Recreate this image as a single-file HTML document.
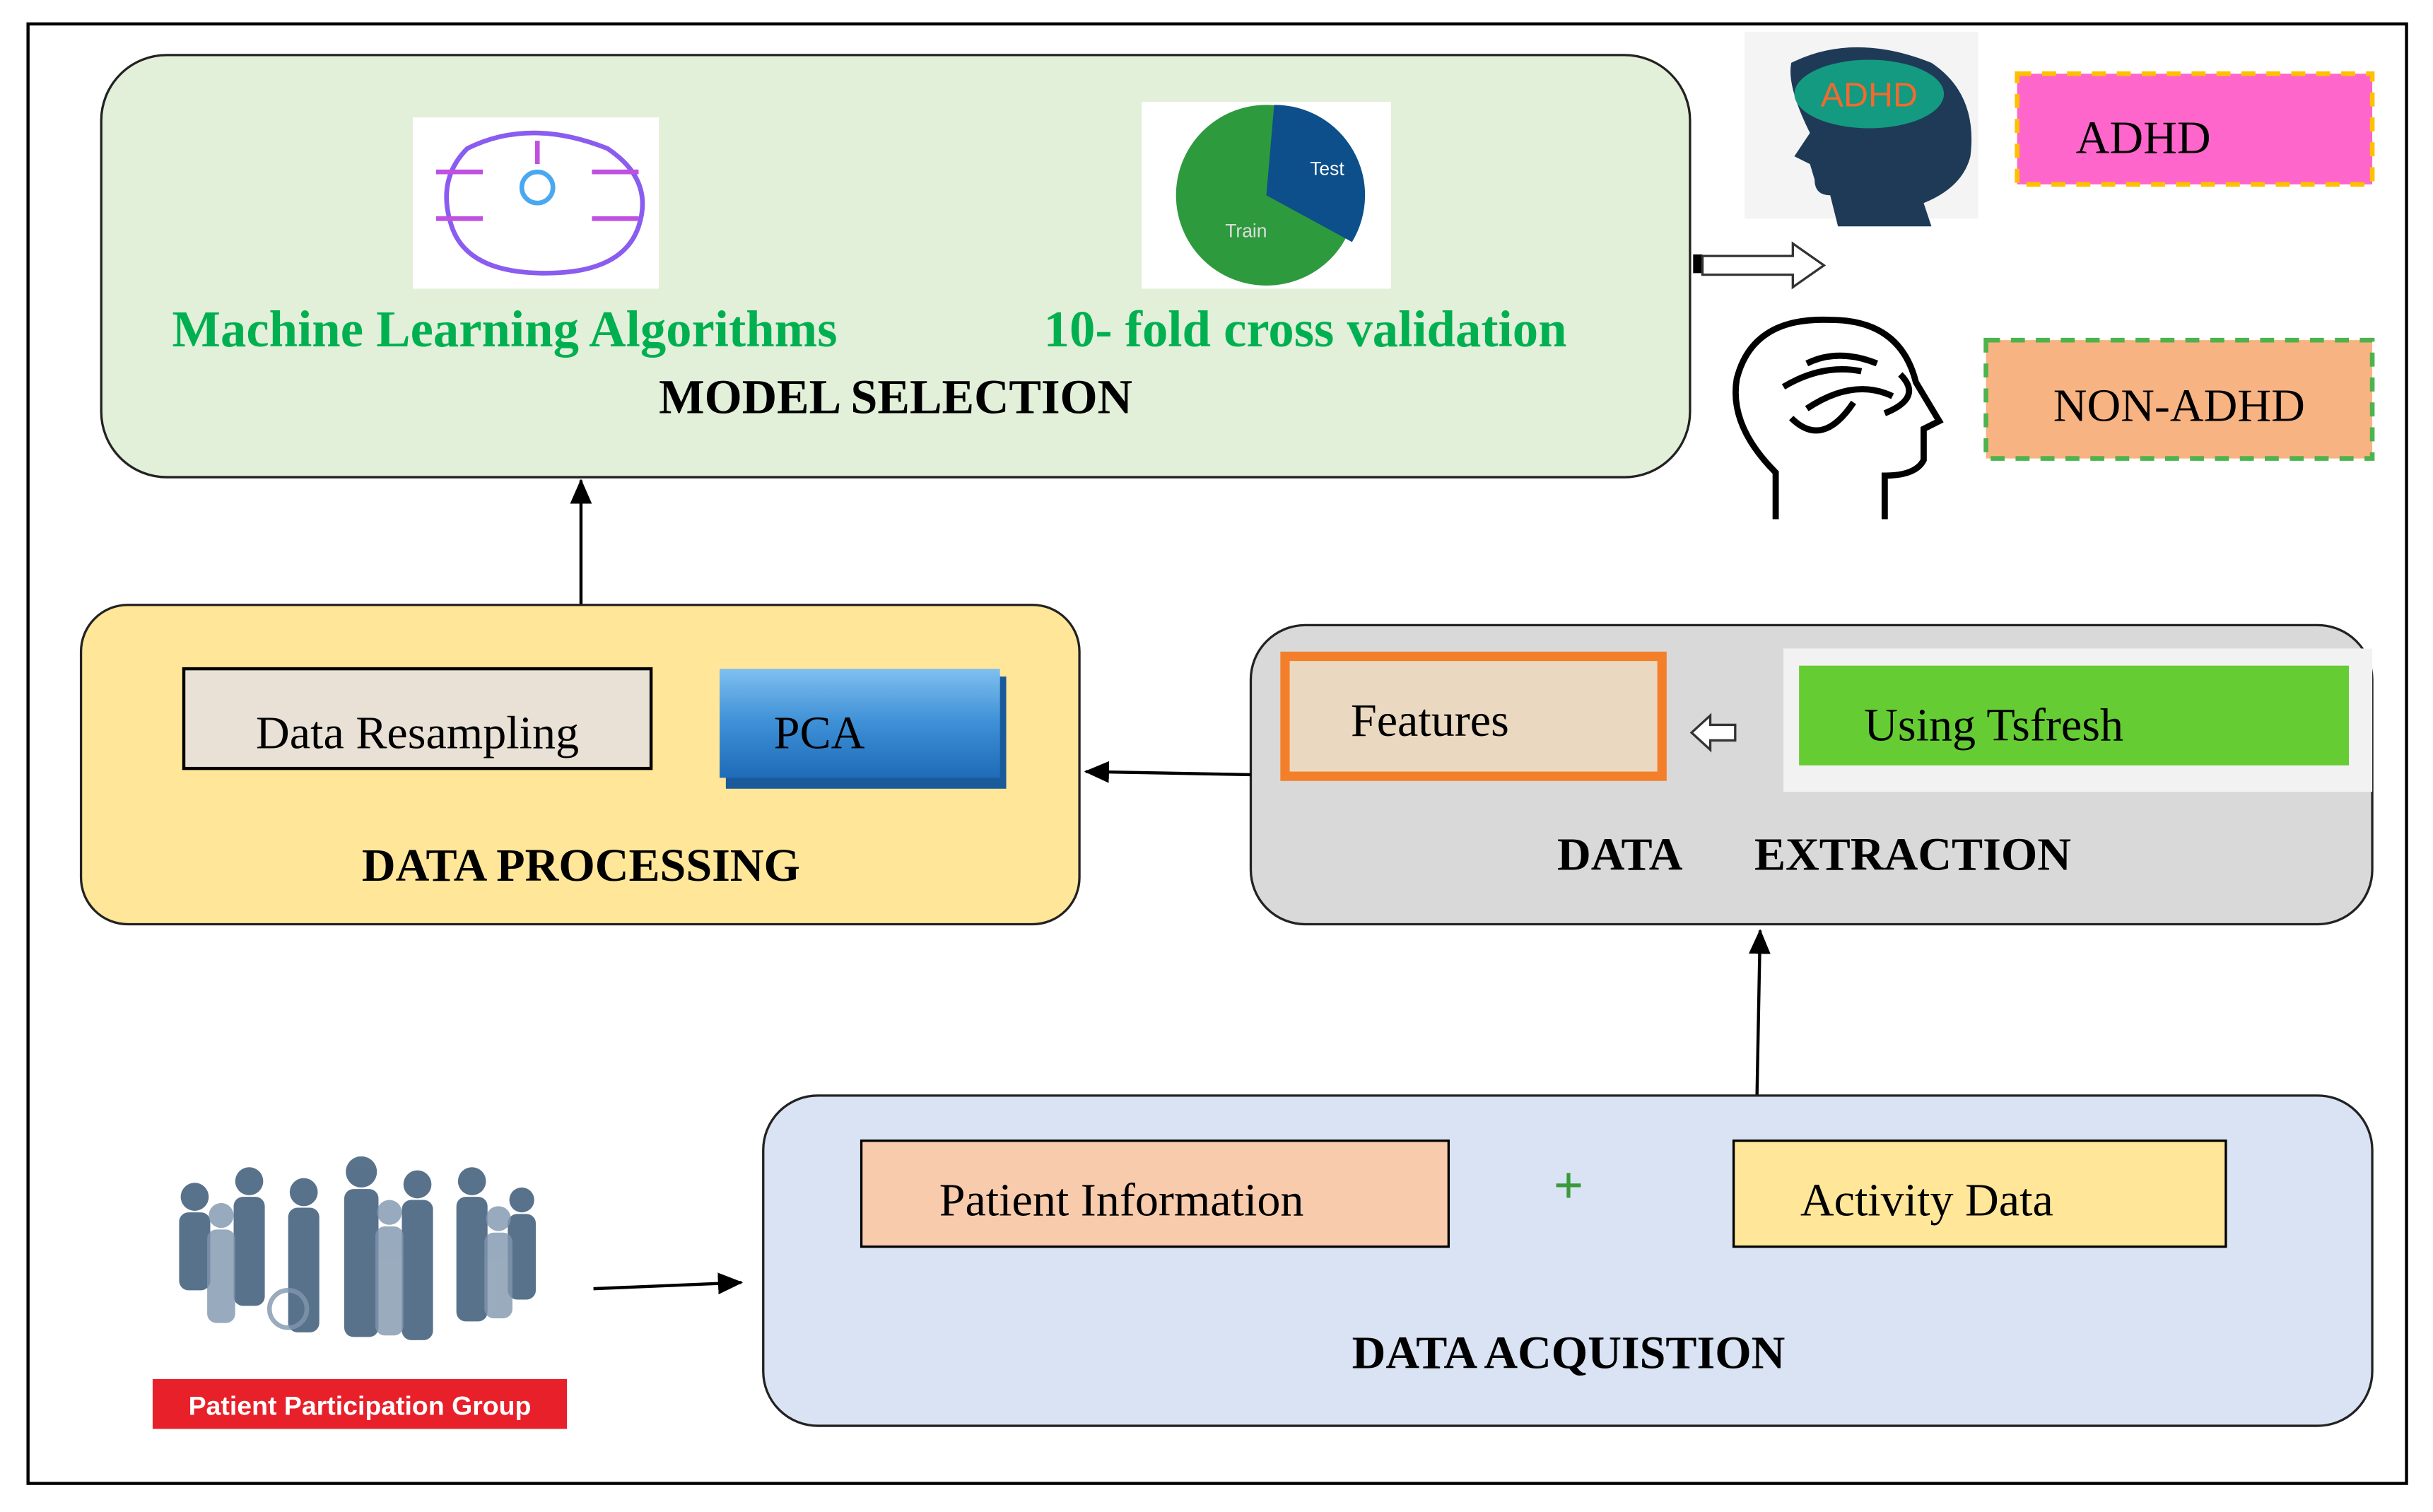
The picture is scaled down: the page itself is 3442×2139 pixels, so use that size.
<!DOCTYPE html>
<html><head><style>html,body{margin:0;padding:0;background:#fff}svg{display:block}</style></head><body>
<svg width="3442" height="2139" viewBox="0 0 1562 970" xmlns="http://www.w3.org/2000/svg" font-family="'Liberation Serif',serif">
<defs>
<marker id="ah" markerWidth="16" markerHeight="16" refX="15" refY="8" orient="auto" markerUnits="userSpaceOnUse"><path d="M0,1 L16,8 L0,15z"/></marker>
<linearGradient id="pca" x1="0" y1="0" x2="0" y2="1"><stop offset="0" stop-color="#7fc0f0"/><stop offset="0.5" stop-color="#3d8fd6"/><stop offset="1" stop-color="#1f6bb8"/></linearGradient>
</defs>
<rect x="18" y="15" width="1527" height="937" fill="#fff" stroke="#000" stroke-width="2"/>
<rect x="65" y="35" width="1020" height="271" rx="42" fill="#e2efd9" stroke="#222" stroke-width="1.5"/>
<rect x="265" y="75" width="158" height="110" fill="#fff"/>
<g fill="none" stroke="#8a5cf0" stroke-width="3">
<path d="M300,95 q40,-20 90,0 q30,20 20,50 q-10,30 -60,30 q-50,0 -60,-30 q-10,-30 10,-50z"/>
<circle cx="345" cy="120" r="10" stroke="#4aa8f0"/><path d="M280,110 h30 M280,140 h30 M380,110 h30 M380,140 h30 M345,90 v15" stroke="#c050e0"/>
</g>
<rect x="733" y="65" width="160" height="120" fill="#fff"/>
<circle cx="813" cy="125" r="58" fill="#2e9a3e"/>
<path d="M813,125 L818,67 A58,58 0 0 1 868,155 Z" fill="#0d4f8a"/>
<text x="852" y="112" font-family="Liberation Sans,sans-serif" font-size="12" fill="#fff" text-anchor="middle">Test</text>
<text x="800" y="152" font-family="Liberation Sans,sans-serif" font-size="12" fill="#ddd" text-anchor="middle">Train</text>
<text x="324" y="222" font-size="33" font-weight="bold" fill="#00b050" text-anchor="middle">Machine Learning Algorithms</text>
<text x="838" y="222" font-size="33" font-weight="bold" fill="#00b050" text-anchor="middle">10- fold cross validation</text>
<text x="575" y="265" font-size="31" font-weight="bold" text-anchor="middle">MODEL SELECTION</text>
<rect x="1087" y="163" width="6" height="12" fill="#000"/>
<path d="M1093,164 h58 v-8 l20,14 l-20,14 v-8 h-58z" fill="#fff" stroke="#333" stroke-width="1.5"/>
<rect x="1120" y="20" width="150" height="120" fill="#f4f4f4"/>
<path d="M1150,40 q40,-20 90,0 q30,20 25,60 q-5,20 -30,30 l5,15 h-60 l-5,-20 q-10,0 -10,-10 l-3,-10 l-10,-5 l10,-15 q-15,-30 -12,-45z" fill="#1f3a57"/>
<ellipse cx="1200" cy="60" rx="48" ry="22" fill="#139a80"/>
<text x="1200" y="68" font-family="Liberation Sans,sans-serif" font-size="22" fill="#f26a2e" text-anchor="middle">ADHD</text>
<rect x="1295" y="47" width="228" height="71" fill="#ff66cc" stroke="#ffc000" stroke-width="3" stroke-dasharray="9,7"/>
<text x="1376" y="98" font-size="30" text-anchor="middle">ADHD</text>
<g fill="none" stroke="#000" stroke-width="4">
<path d="M1140,333 v-30 q-30,-30 -25,-60 q10,-40 60,-38 q45,0 55,40 l15,25 l-10,5 v20 q-5,10 -25,10 v28"/>
<path d="M1160,233 q20,-10 45,0 M1145,248 q25,-15 50,-10 M1160,262 q30,-20 55,-8 M1150,268 q20,20 40,-10 M1220,240 q15,15 -10,25"/>
</g>
<rect x="1275" y="218" width="248" height="76" fill="#f8b383" stroke="#4db34d" stroke-width="3" stroke-dasharray="9,7"/>
<text x="1399" y="270" font-size="30" text-anchor="middle">NON-ADHD</text>
<line x1="373" y1="388" x2="373" y2="308" stroke="#000" stroke-width="2" marker-end="url(#ah)"/>
<rect x="52" y="388" width="641" height="205" rx="30" fill="#ffe699" stroke="#222" stroke-width="1.5"/>
<rect x="118" y="429" width="300" height="64" fill="#e9e1d5" stroke="#000" stroke-width="2"/>
<text x="268" y="480" font-size="30" text-anchor="middle">Data Resampling</text>
<rect x="466" y="434" width="180" height="72" fill="#1a5a9a"/>
<rect x="462" y="429" width="180" height="70" fill="url(#pca)"/>
<text x="526" y="480" font-size="30" text-anchor="middle">PCA</text>
<text x="373" y="565" font-size="30" font-weight="bold" text-anchor="middle">DATA PROCESSING</text>
<rect x="803" y="401" width="720" height="192" rx="35" fill="#d9d9d9" stroke="#222" stroke-width="1.5"/>
<rect x="825" y="421" width="242" height="77" fill="#ead9c0" stroke="#f47f2a" stroke-width="6"/>
<text x="918" y="472" font-size="30" text-anchor="middle">Features</text>
<path d="M1114,465 h-16 v-6 l-12,11 l12,11 v-6 h16z" fill="#fff" stroke="#333" stroke-width="1.5"/>
<rect x="1145" y="416" width="378" height="92" fill="#f2f2f2"/>
<rect x="1155" y="427" width="353" height="64" fill="#66cc33"/>
<text x="1280" y="475" font-size="30" text-anchor="middle">Using Tsfresh</text>
<text x="1040" y="558" font-size="30" font-weight="bold" text-anchor="middle">DATA</text>
<text x="1228" y="558" font-size="30" font-weight="bold" text-anchor="middle">EXTRACTION</text>
<line x1="803" y1="497" x2="697" y2="495" stroke="#000" stroke-width="2" marker-end="url(#ah)"/>
<line x1="1128" y1="703" x2="1130" y2="597" stroke="#000" stroke-width="2" marker-end="url(#ah)"/>
<rect x="490" y="703" width="1033" height="212" rx="35" fill="#dae3f3" stroke="#222" stroke-width="1.5"/>
<rect x="553" y="732" width="377" height="68" fill="#f8cbad" stroke="#000" stroke-width="1.5"/>
<text x="720" y="780" font-size="30" text-anchor="middle">Patient Information</text>
<text x="1007" y="772" font-size="34" font-weight="bold" fill="#3a9a3a" text-anchor="middle">+</text>
<rect x="1113" y="732" width="316" height="68" fill="#ffe699" stroke="#000" stroke-width="1.5"/>
<text x="1237" y="780" font-size="30" text-anchor="middle">Activity Data</text>
<text x="1007" y="878" font-size="30" font-weight="bold" text-anchor="middle">DATA ACQUISTION</text>
<g fill="#3d5a78" opacity="0.85">
<circle cx="125" cy="768" r="9"/><rect x="115" y="778" width="20" height="50" rx="6"/>
<circle cx="160" cy="758" r="9"/><rect x="150" y="768" width="20" height="70" rx="6"/>
<circle cx="195" cy="765" r="9"/><rect x="185" y="775" width="20" height="80" rx="6"/>
<circle cx="232" cy="752" r="10"/><rect x="221" y="763" width="22" height="95" rx="6"/>
<circle cx="268" cy="760" r="9"/><rect x="258" y="770" width="20" height="90" rx="6"/>
<circle cx="303" cy="758" r="9"/><rect x="293" y="768" width="20" height="80" rx="6"/>
<circle cx="335" cy="770" r="8"/><rect x="326" y="779" width="18" height="55" rx="6"/>
</g>
<g fill="#7f96ad" opacity="0.8">
<circle cx="142" cy="780" r="8"/><rect x="133" y="789" width="18" height="60" rx="6"/>
<circle cx="250" cy="778" r="8"/><rect x="241" y="787" width="18" height="70" rx="6"/>
<circle cx="320" cy="782" r="8"/><rect x="311" y="791" width="18" height="55" rx="6"/>
<circle cx="185" cy="840" r="12" fill="none" stroke="#7f96ad" stroke-width="3"/>
</g>
<rect x="98" y="885" width="266" height="32" fill="#e8202a"/>
<text x="231" y="908" font-family="Liberation Sans,sans-serif" font-size="17" font-weight="bold" fill="#fff" text-anchor="middle">Patient Participation Group</text>
<line x1="381" y1="827" x2="476" y2="823" stroke="#000" stroke-width="2" marker-end="url(#ah)"/>
</svg>
</body></html>
